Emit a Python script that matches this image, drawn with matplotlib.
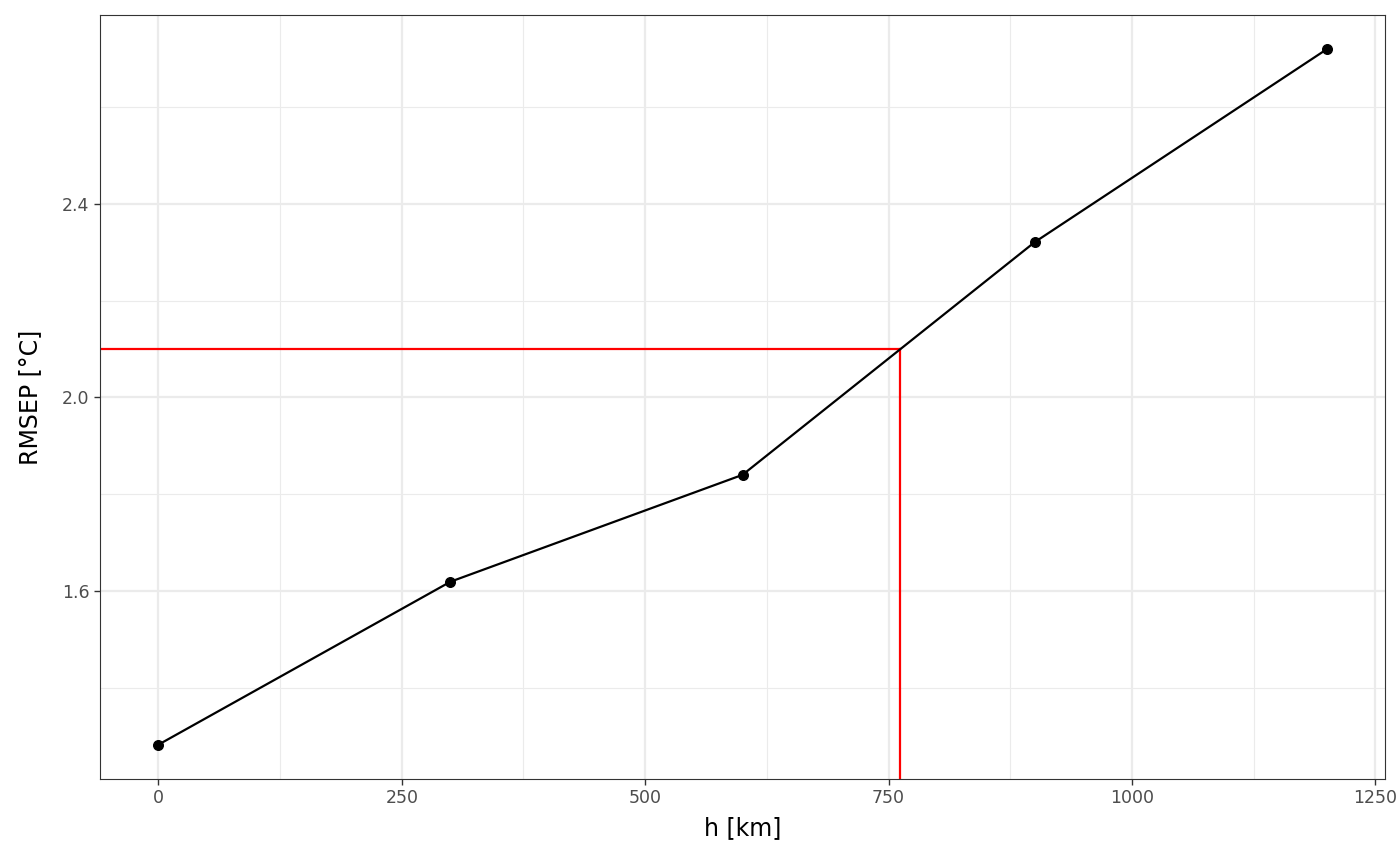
import matplotlib.pyplot as plt
from matplotlib.ticker import MultipleLocator

# Values.
h_km = [0, 300, 600, 900, 1200]
rmsep = [1.282, 1.619, 1.840, 2.321, 2.720]
target_rmsep = 2.1
target_h = 762

fig = plt.figure(figsize=(14, 8.65), dpi=100)
ax = fig.add_axes([100 / 1400, 86 / 865, 1285 / 1400, 764 / 865])

ax.set_xlim(-60, 1260)
ax.set_ylim(1.211, 2.791)

# theme_bw-like grid
ax.xaxis.set_major_locator(MultipleLocator(250))
ax.xaxis.set_minor_locator(MultipleLocator(125))
ax.yaxis.set_major_locator(MultipleLocator(0.4))
ax.yaxis.set_minor_locator(MultipleLocator(0.2))
ax.grid(which="major", color="#EBEBEB", linewidth=1.6)
ax.grid(which="minor", color="#EBEBEB", linewidth=0.8)
ax.set_axisbelow(True)
ax.tick_params(which="minor", length=0)
ax.tick_params(which="major", length=4, width=1, color="#333333",
               labelsize=12.5, labelcolor="#4D4D4D")
for s in ax.spines.values():
    s.set_color("#333333")
    s.set_linewidth(0.8)

ax.set_yticks([1.6, 2.0, 2.4])
ax.set_yticklabels(["1.6", "2.0", "2.4"])

# Red guide lines
ax.plot([-60, target_h], [target_rmsep, target_rmsep], color="red", linewidth=1.6, zorder=2)
ax.plot([target_h, target_h], [1.211, target_rmsep], color="red", linewidth=1.6, zorder=2)

ax.plot(h_km, rmsep, color="black", linewidth=1.6, zorder=3)
ax.scatter(h_km, rmsep, color="black", s=48, zorder=4)

ax.set_xlabel("h [km]", fontsize=17, labelpad=6)
ax.set_ylabel("RMSEP [°C]", fontsize=17, labelpad=14)

fig.savefig("out.png", dpi=100)
